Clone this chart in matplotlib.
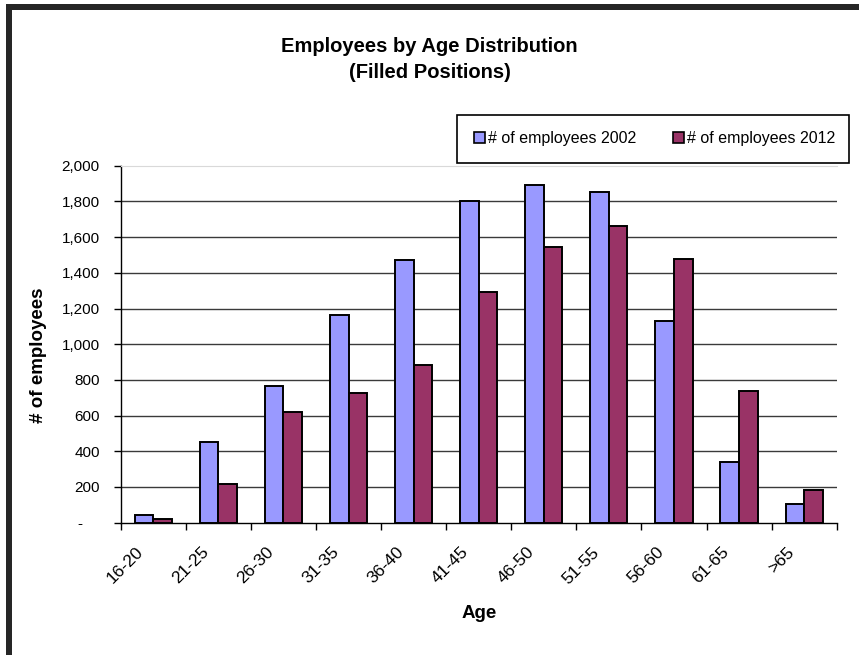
import matplotlib
matplotlib.use("Agg")
import matplotlib.pyplot as plt
from matplotlib.patches import Rectangle
from matplotlib.ticker import FuncFormatter, MultipleLocator
from matplotlib.transforms import ScaledTranslation
import numpy as np

plt.rcParams["font.family"] = ["Liberation Sans", "DejaVu Sans"]

# ---------------------------------------------------------------------------
# Data
# ---------------------------------------------------------------------------
age_groups = ["16-20", "21-25", "26-30", "31-35", "36-40", "41-45",
              "46-50", "51-55", "56-60", "61-65", ">65"]
employees_2002 = [45, 450, 766, 1162, 1470, 1804, 1894, 1853, 1132, 342, 107]
employees_2012 = [19, 215, 618, 728, 885, 1291, 1546, 1664, 1477, 740, 185]
series_labels = ["# of employees 2002", "# of employees 2012"]
series_colors = ["#9999FF", "#993366"]

W, H = 859, 655
fig = plt.figure(figsize=(W / 100, H / 100), dpi=100)


def fx(px):
    return px / W


def fy(py):
    return 1 - py / H


ax = fig.add_axes([fx(120.7), fy(522.7), fx(836.7) - fx(120.7), fy(165.7) - fy(522.7)])

x = np.arange(len(age_groups))
bw = 1 / 3.5  # Excel gap width 150%
ax.bar(x - bw / 2, employees_2002, width=bw, color=series_colors[0],
       edgecolor="black", linewidth=1.4, zorder=3)
ax.bar(x + bw / 2, employees_2012, width=bw, color=series_colors[1],
       edgecolor="black", linewidth=1.4, zorder=3)

ax.set_xlim(-0.5, len(age_groups) - 0.5)
ax.set_ylim(0, 2000)
ax.yaxis.set_major_locator(MultipleLocator(200))
ax.yaxis.set_major_formatter(FuncFormatter(lambda v, p: "-    " if v == 0 else f"{v:,.0f}"))
for yv in range(200, 2000, 200):
    ax.axhline(yv, color="#3a3a3a", linewidth=1.0, zorder=1)

ax.set_xticks(x)
ax.set_xticklabels(age_groups, rotation=45, ha="right", va="top", fontsize=12.5)
ax.set_xticks(np.arange(-0.5, len(age_groups)), minor=True)
ax.tick_params(axis="x", which="major", length=0, pad=7)
ax.tick_params(axis="x", which="minor", length=5, width=1, direction="out")
ax.tick_params(axis="y", length=5, width=1, direction="out", pad=10, labelsize=11)
# Excel sets the rotated labels a little lower and to the left of the category centre
shift = ScaledTranslation(-0.07, -0.12, fig.dpi_scale_trans)
for lbl in ax.get_xticklabels():
    lbl.set_transform(lbl.get_transform() + shift)

ax.spines["right"].set_visible(False)
ax.spines["top"].set_color("#d9d9d9")
ax.spines["left"].set_linewidth(1)
ax.spines["bottom"].set_linewidth(1)

ax.set_ylabel("# of employees", fontsize=13.5, fontweight="bold", va="center")
ax.yaxis.set_label_coords((38 - 120.7) / 716, 0.47)
ax.set_xlabel("Age", fontsize=13.5, fontweight="bold")
ax.xaxis.set_label_coords(0.5, -(613 - 522.7) / 357)
ax.xaxis.label.set_va("center")

# title
fig.text(0.5, fy(46), "Employees by Age Distribution", ha="center", va="center",
         fontsize=14.5, fontweight="bold")
fig.text(0.5, fy(72), "(Filled Positions)", ha="center", va="center",
         fontsize=14.5, fontweight="bold")

# legend, drawn by hand to match the box position
fig.patches.append(Rectangle((fx(457), fy(163)), fx(849) - fx(457), fy(115) - fy(163),
                             transform=fig.transFigure, facecolor="white",
                             edgecolor="black", linewidth=1.2, zorder=5))
for lx, label, col in zip([474, 673], series_labels, series_colors):
    fig.patches.append(Rectangle((fx(lx), fy(143.5)), fx(11), 11 / H,
                                 transform=fig.transFigure, facecolor=col,
                                 edgecolor="black", linewidth=1.2, zorder=6))
    fig.text(fx(lx + 14), fy(138.5), label, ha="left", va="center", fontsize=11.5, zorder=7)

# outer frame
fig.patches.append(Rectangle((fx(6), 0), fx(6), fy(4), transform=fig.transFigure,
                             facecolor="#262626", edgecolor="none"))
fig.patches.append(Rectangle((fx(6), fy(10)), 1, fy(4) - fy(10), transform=fig.transFigure,
                             facecolor="#262626", edgecolor="none"))

fig.savefig("out.png", dpi=100)
